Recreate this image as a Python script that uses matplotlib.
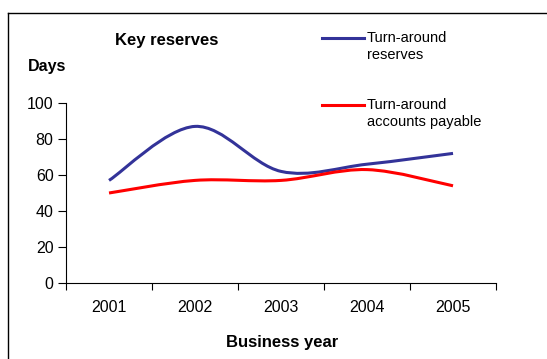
import matplotlib
matplotlib.use('Agg')
import matplotlib.pyplot as plt
from matplotlib.path import Path
from matplotlib.patches import PathPatch
from matplotlib.lines import Line2D

plt.rcParams['font.family'] = ['Liberation Sans', 'DejaVu Sans']

years = ['2001', '2002', '2003', '2004', '2005']
reserves = [57, 87, 62, 66, 72]
payables = [50, 57, 57, 63, 54]
labels = ['Turn-around\nreserves', 'Turn-around\naccounts payable']
colors = ['#333399', '#ff0000']


def smooth_path(xs, ys):
    # bezier segments like a spreadsheet "smoothed line"
    n = len(xs)
    verts = [(xs[0], ys[0])]
    codes = [Path.MOVETO]
    for i in range(n - 1):
        a = i - 1 if i > 0 else i
        d = i + 2 if i + 2 < n else i + 1
        c1 = (xs[i] + (xs[i + 1] - xs[a]) / 6, ys[i] + (ys[i + 1] - ys[a]) / 6)
        c2 = (xs[i + 1] - (xs[d] - xs[i]) / 6, ys[i + 1] - (ys[d] - ys[i]) / 6)
        verts += [c1, c2, (xs[i + 1], ys[i + 1])]
        codes += [Path.CURVE4] * 3
    return Path(verts, codes)


fig = plt.figure(figsize=(5.47, 3.59), dpi=100)
ax = fig.add_axes([0.1207, 0.2117, 0.7861, 0.5014])

x = list(range(len(years)))
for vals, col in zip([reserves, payables], colors):
    ax.add_patch(PathPatch(smooth_path(x, vals), facecolor='none',
                           edgecolor=col, lw=2.2, capstyle='butt'))

ax.set_xlim(-0.5, len(years) - 0.5)
ax.set_ylim(0, 100)
ax.set_yticks(range(0, 101, 20))
ax.set_xticks([i - 0.5 for i in range(len(years) + 1)])
ax.set_xticklabels([])
ax.set_xticks(x, minor=True)
ax.set_xticklabels(years, minor=True)
ax.tick_params(axis='x', which='minor', length=0, pad=12, labelsize=11.5)
ax.tick_params(axis='x', which='major', length=5, width=0.8)
ax.tick_params(axis='y', length=6, width=0.8, labelsize=11.5, pad=3)
for s in ['top', 'right']:
    ax.spines[s].set_visible(False)
for s in ['left', 'bottom']:
    ax.spines[s].set_linewidth(0.8)

# legend drawn by hand: short line, then two-line label
legend_y = [0.8942, 0.7075]
for lab, col, ly in zip(labels, colors, legend_y):
    fig.add_artist(Line2D([0.5887, 0.6654], [ly, ly], color=col, lw=2.2))
    fig.text(0.671, ly - 0.0235, lab, ha='left', va='center',
             fontsize=10.5, linespacing=1.2)

fig.text(0.305, 0.888, 'Key reserves', ha='center', va='center',
         fontsize=12, fontweight='bold')
fig.text(0.051, 0.816, 'Days', ha='left', va='center',
         fontsize=11.5, fontweight='bold')
fig.text(0.515, 0.047, 'Business year', ha='center', va='center',
         fontsize=12, fontweight='bold')

# outer frame, only top and left edges fall inside the image
fig.add_artist(Line2D([0.0146, 1.0], [0.9638, 0.9638], color='black', lw=1))
fig.add_artist(Line2D([0.0146, 0.0146], [0.0, 0.9638], color='black', lw=1))

fig.savefig('out.png', dpi=100)
